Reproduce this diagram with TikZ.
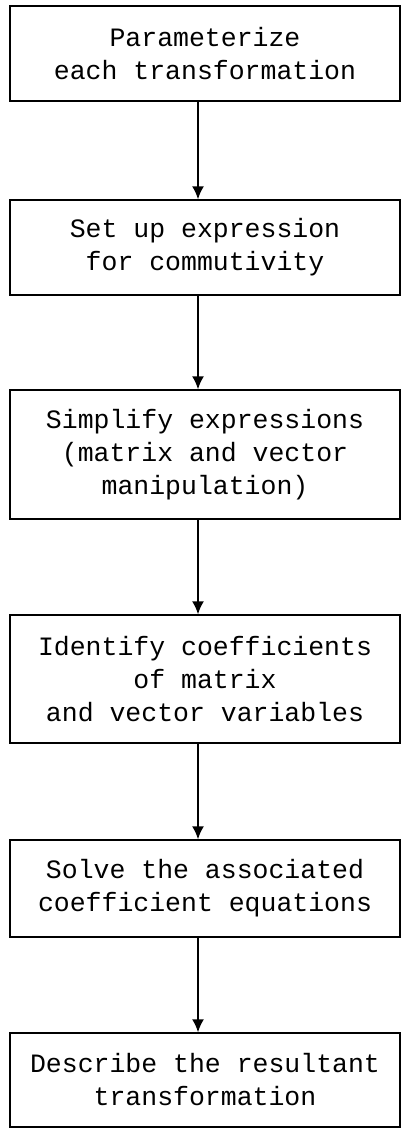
\documentclass[tikz,border=0pt]{standalone}
\usepackage{fontspec}
\setmonofont{Liberation Mono}
\usetikzlibrary{arrows.meta}
\begin{document}
\begin{tikzpicture}
  [x=1pt,y=1pt,line width=1.5pt,
   every node/.style={draw,rectangle,minimum width=390pt,inner sep=0pt,align=center,
     font=\ttfamily\fontsize{26.5}{33}\selectfont}]
  \useasboundingbox (0,0) rectangle (403,-1130);
  \node[minimum height=95pt]  (n1) at (205,-53.5)  {Parameterize\\each transformation};
  \node[minimum height=95pt]  (n2) at (205,-247.5) {Set up expression\\for commutivity};
  \node[minimum height=129pt] (n3) at (205,-454.5) {Simplify expressions\\(matrix and vector\\manipulation)};
  \node[minimum height=128pt] (n4) at (205,-679)   {Identify coefficients\\of matrix\\and vector variables};
  \node[minimum height=97pt]  (n5) at (205,-888.5) {Solve the associated\\coefficient equations};
  \node[minimum height=94pt]  (n6) at (205,-1080)  {Describe the resultant\\transformation};

  \foreach \from/\to in {n1/n2,n2/n3,n3/n4,n4/n5,n5/n6}
    \draw[-{Latex[length=13pt,width=12pt]}] ([xshift=-7pt]\from.south) -- ([xshift=-7pt]\to.north);
\end{tikzpicture}
\end{document}
